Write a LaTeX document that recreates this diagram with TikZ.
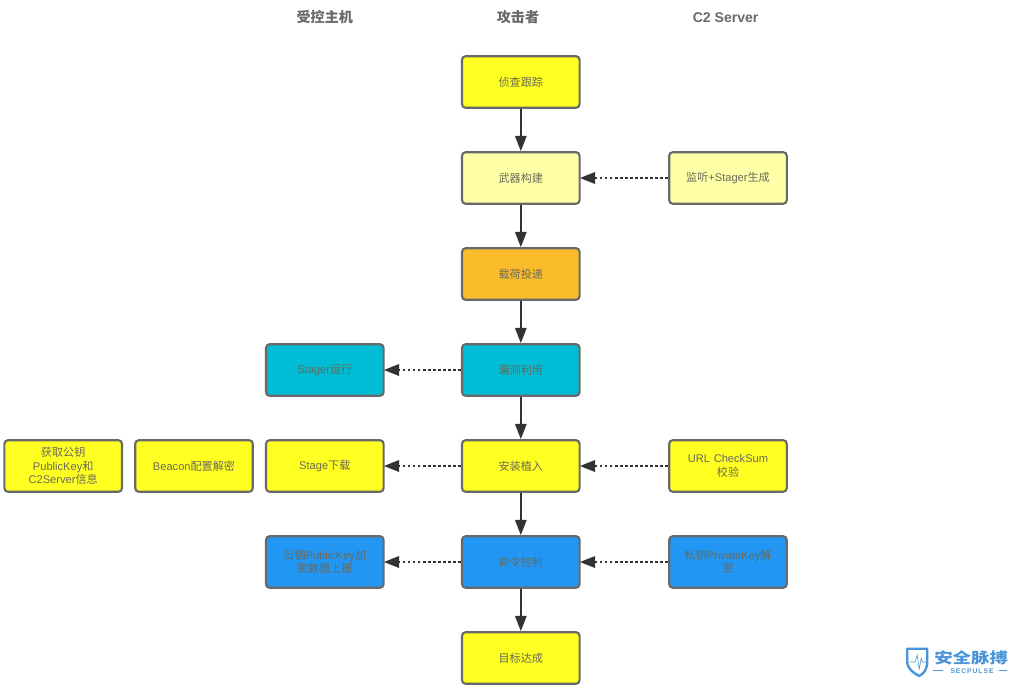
\documentclass[tikz,border=0pt]{standalone}
\usepackage{fontspec}
\setmainfont{Liberation Sans}
\newfontfamily\cjk{Noto Sans CJK SC}
\usetikzlibrary{arrows.meta,positioning}

\definecolor{boxline}{HTML}{696969}
\definecolor{boxtext}{HTML}{6A6A5A}
\definecolor{linedark}{HTML}{333333}
\definecolor{yellowbox}{HTML}{FFFF22}
\definecolor{paleboxc}{HTML}{FFFFA8}
\definecolor{orangebox}{HTML}{FBBC2B}
\definecolor{tealbox}{HTML}{00BCD4}
\definecolor{bluebox}{HTML}{2196F3}
\definecolor{logoblue}{HTML}{4A94DA}

\tikzset{
  stagebox/.style={draw=boxline,line width=1.5pt,rounded corners=2.6pt,
    minimum width=2.94cm,minimum height=1.29cm,text width=2.8cm,align=center,
    inner sep=0pt,text=boxtext,font=\fontsize{7.9}{9.5}\selectfont},
  header/.style={text=boxline,font=\fontsize{10}{12}\selectfont\bfseries},
  flow/.style={draw=linedark,line width=1.7pt,-{Triangle[length=0.38cm,width=0.28cm]}},
  hint/.style={flow,shorten >=-0.6pt,dash pattern=on 1.9pt off 1.7pt},
}

\begin{document}
\begin{tikzpicture}
\useasboundingbox (0,0) rectangle (25.6,17.25);

% Column titles
\node[header] (hostTitle) at (8.12,16.82) {\cjk 受控主机};
\node[header] (attackTitle) at (12.95,16.82) {\cjk 攻击者};
\node[header] (serverTitle) at (18.14,16.82) {C2 Server};

%-------------------------------------------------
% Attacker column
%-------------------------------------------------

\node[stagebox,fill=yellowbox] (recon) at (13.02,15.2) {\cjk 侦查跟踪};
\node[stagebox,fill=paleboxc] (weapon) at (13.02,12.8) {\cjk 武器构建};
\node[stagebox,fill=orangebox] (deliver) at (13.02,10.4) {\cjk 载荷投递};
\node[stagebox,fill=tealbox] (exploit) at (13.02,8.0) {\cjk 漏洞利用};
\node[stagebox,fill=yellowbox] (install) at (13.02,5.6) {\cjk 安装植入};
\node[stagebox,fill=bluebox] (control) at (13.02,3.2) {\cjk 命令控制};
\node[stagebox,fill=yellowbox] (goal) at (13.02,0.8) {\cjk 目标达成};

%-------------------------------------------------
% C2 Server column
%-------------------------------------------------

\node[stagebox,fill=paleboxc] (listen) at (18.2,12.8) {{\cjk 监听}+Stager{\cjk 生成}};
\node[stagebox,fill=yellowbox] (checksum) at (18.2,5.6) {URL CheckSum\\{\cjk 校验}};
\node[stagebox,fill=bluebox] (privkey) at (18.2,3.2) {{\cjk 私钥}PrivateKey{\cjk 解}\\{\cjk 密}};

%-------------------------------------------------
% Host column
%-------------------------------------------------

\node[stagebox,fill=tealbox] (stager) at (8.12,8.0) {Stager{\cjk 运行}};
\node[stagebox,fill=yellowbox] (stage) at (8.12,5.6) {Stage{\cjk 下载}};
\node[stagebox,fill=bluebox] (pubkey) at (8.12,3.2) {{\cjk 公钥}PublicKey{\cjk 加}\\{\cjk 密数据上报}};
\node[stagebox,fill=yellowbox] (beacon) at (4.85,5.6) {Beacon{\cjk 配置解密}};
\node[stagebox,fill=yellowbox] (fetch) at (1.58,5.6) {{\cjk 获取公钥}\\PublicKey{\cjk 和}\\C2Server{\cjk 信息}};

% Main chain
\draw[flow] (recon) -- (weapon);
\draw[flow] (weapon) -- (deliver);
\draw[flow] (deliver) -- (exploit);
\draw[flow] (exploit) -- (install);
\draw[flow] (install) -- (control);
\draw[flow] (control) -- (goal);

% Dotted links
\draw[hint] (listen) -- (weapon);
\draw[hint] (checksum) -- (install);
\draw[hint] (privkey) -- (control);
\draw[hint] (exploit) -- (stager);
\draw[hint] (install) -- (stage);
\draw[hint] (control) -- (pubkey);

%-------------------------------------------------
% Logo
%-------------------------------------------------

\draw[logoblue,line width=1.7pt,line join=round]
(23.0,1.03) -- (22.68,1.03) -- (22.68,0.72)
.. controls (22.68,0.52) and (22.85,0.42) .. (22.98,0.35)
.. controls (23.11,0.42) and (23.18,0.52) .. (23.18,0.72)
-- (23.18,1.03) -- cycle;
\draw[logoblue,line width=0.4pt]
(22.74,0.7) -- (22.88,0.7) -- (22.93,0.88) -- (22.98,0.52) -- (23.03,0.8) -- (23.06,0.7) -- (23.14,0.7);
\node[text=logoblue,xscale=1.06,yscale=0.85,font=\fontsize{12.4}{13}\selectfont\bfseries\cjk] (logoName) at (24.28,0.8) {安全脉搏};
\node[text=logoblue,font=\fontsize{4.8}{5}\selectfont\bfseries\addfontfeature{LetterSpace=14}] (logoSub) at (24.3,0.48) {SECPULSE};
\draw[logoblue,line width=0.6pt] (23.33,0.48) -- (23.58,0.48);
\draw[logoblue,line width=0.6pt] (24.98,0.48) -- (25.18,0.48);

\end{tikzpicture}
\end{document}
